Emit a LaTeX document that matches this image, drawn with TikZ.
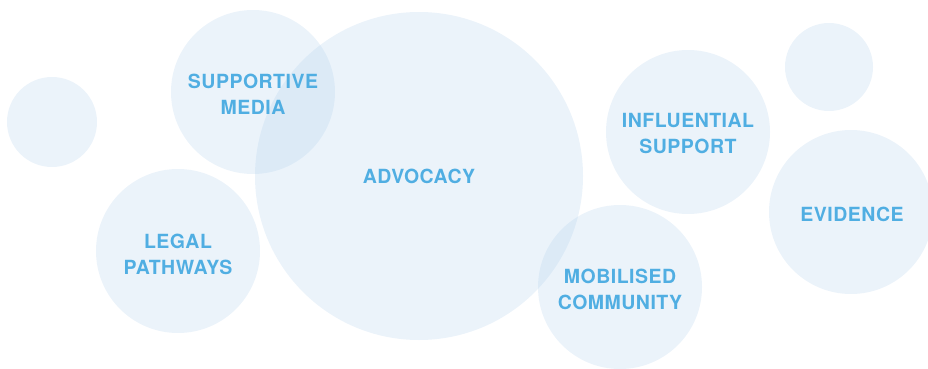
\documentclass[tikz,border=0pt]{standalone}
\usepackage{fontspec}
\setmainfont{TeX Gyre Heros}[LetterSpace=2.5]
\definecolor{bubblefill}{RGB}{175,207,235}
\definecolor{labelblue}{RGB}{80,174,226}
\begin{document}
\begin{tikzpicture}[x=1pt,y=-1pt,
  bubble/.style={circle,inner sep=0pt,fill=bubblefill,fill opacity=0.25,draw=none},
  lbl/.style={text=labelblue,align=center,inner sep=0pt,font=\fontsize{19.5}{26}\selectfont\bfseries}]
\useasboundingbox (0,0) rectangle (928,369);
\node[bubble,minimum size=90] (s1) at (52,122) {};
\node[bubble,minimum size=164] (media) at (253,92) {};
\node[bubble,minimum size=328] (adv) at (419,176) {};
\node[bubble,minimum size=164] (legal) at (178,251) {};
\node[bubble,minimum size=164] (infl) at (688,132) {};
\node[bubble,minimum size=88] (s2) at (829,67) {};
\node[bubble,minimum size=164] (evid) at (851,212) {};
\node[bubble,minimum size=164] (mob) at (620,287) {};
\node[lbl] (tmedia) at (253,94) {SUPPORTIVE\\MEDIA};
\node[lbl] (tadv) at (419,176) {ADVOCACY};
\node[lbl] (tlegal) at (178,254) {LEGAL\\PATHWAYS};
\node[lbl] (tinfl) at (688,134) {INFLUENTIAL\\SUPPORT};
\node[lbl] (tevid) at (852,214) {EVIDENCE};
\node[lbl] (tmob) at (620,289) {MOBILISED\\COMMUNITY};
\end{tikzpicture}
\end{document}
